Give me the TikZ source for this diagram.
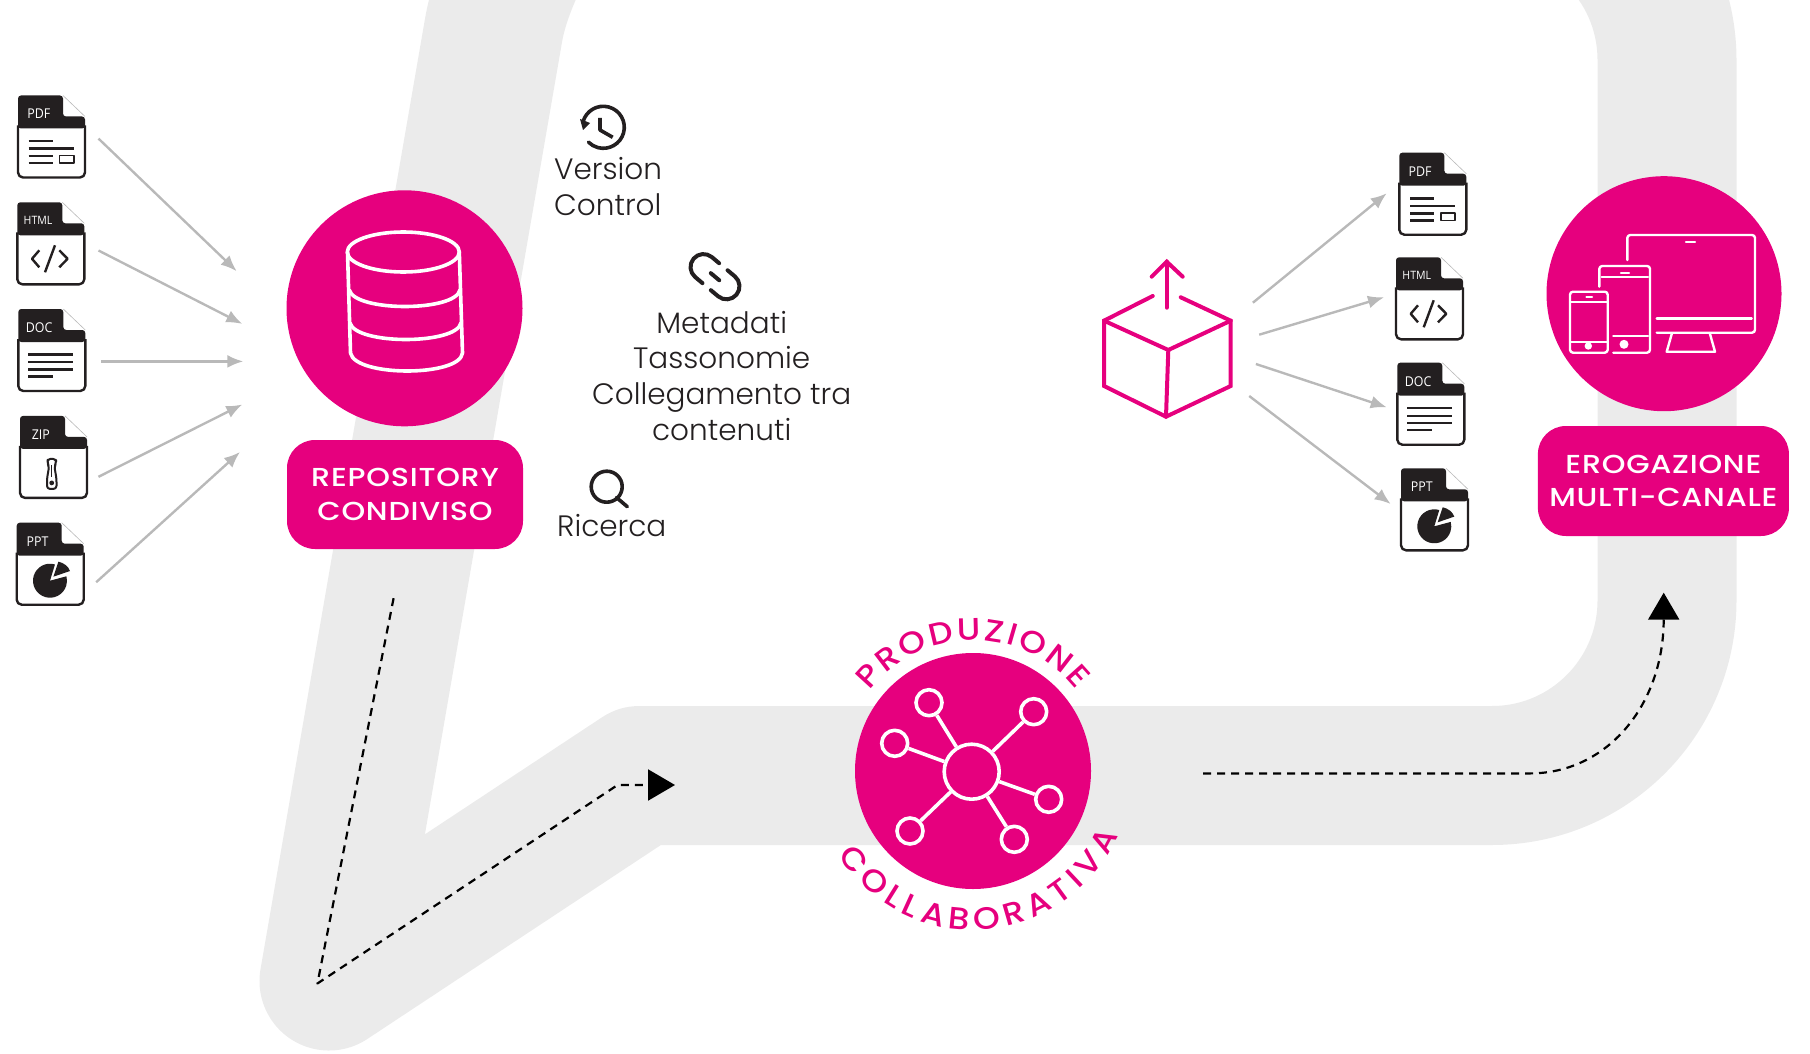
\documentclass[tikz,border=0pt]{standalone}
\usepackage{fontspec}
\usepackage{tikz}
\usetikzlibrary{arrows.meta,calc,decorations.text}
\setmainfont{Poppins Light}
\newfontfamily\labelfont[LetterSpace=3,FakeStretch=1.16]{Poppins Medium}
\newfontfamily\curvefont[FakeStretch=1.1]{Poppins Medium}
\newfontfamily\iconfont[FakeStretch=0.92]{Open Sans}
\definecolor{pinkmain}{HTML}{E6007E}
\definecolor{bandgrey}{HTML}{EBEBEB}
\definecolor{arrowgrey}{HTML}{B9B9B9}
\definecolor{filedark}{HTML}{231F20}
\tikzset{
  circlebox/.style={circle, fill=pinkmain, minimum size=236pt, inner sep=0pt},
  pillbox/.style={rectangle, rounded corners=28pt, fill=pinkmain, text=white, align=center, inner sep=0pt,
    font=\labelfont\fontsize{26}{33.5}\selectfont},
  plaintext/.style={inner sep=0pt, text=filedark, font=\fontsize{29.5}{36}\selectfont},
  greyarrow/.style={draw=arrowgrey, line width=2.4pt, -{Latex[length=16pt,width=13pt]}},
  dasharrow/.style={black, line width=2.2pt, dash pattern=on 8pt off 6pt, -{Triangle[length=27pt,width=31pt]}},
  iconline/.style={filedark, line width=2.2pt},
  pinkline/.style={pinkmain, line width=4pt, line cap=round, line join=miter},
  whiteline/.style={white, line width=3.6pt, line cap=round},
  thinwhite/.style={white, line width=2.4pt, line cap=round, line join=round},
  blackicon/.style={filedark, line width=3.6pt, line cap=round},
  hubdot/.style={circle, draw=white, line width=3.6pt, inner sep=0pt, minimum size=26pt},
  filelabel/.style={text=white, inner sep=0pt, font=\iconfont\fontsize{#1}{#1}\selectfont},
}
% Glyphs inside the file icons
\newcommand{\pdfglyph}{
  \draw[iconline] (10.7,45.7) -- (35,45.7) (10.7,53) -- (56,53) (10.7,60.7) -- (35,60.7) (10.7,67.7) -- (35,67.7);
  \draw[iconline, line width=1.8pt] (41.5,60) rectangle (56,67.7);
}
\newcommand{\htmlglyph}{
  \draw[iconline, line width=2.4pt] (22,48) -- (14.7,56.5) -- (22,65) (42,48) -- (50.3,56.5) -- (42,65) (37.7,43) -- (27.7,70);
}
\newcommand{\docglyph}{
  \draw[iconline] (10,45.5) -- (54.5,45.5) (10,53) -- (54.5,53) (10,60.5) -- (54.5,60.5) (10,67.5) -- (35,67.5);
}
\newcommand{\zipglyph}{
  \draw[iconline, line width=2pt, rounded corners=3pt] (27.5,47) -- (27.5,43) -- (36,43) -- (36,47) -- (34.5,51) -- (36.5,63) -- (36.5,73) -- (27,73) -- (27,63) -- (29,51) -- cycle;
  \fill[filedark] (31.7,67) circle[radius=2.4pt];
  \draw[iconline, line width=1.4pt] (31.7,49) -- (31.7,61);
}
\newcommand{\pptglyph}{
  \fill[filedark] (33.3,58) -- ++(73:17pt) arc[start angle=73, end angle=375, radius=17pt] -- cycle;
  \fill[filedark] (36.7,54) -- (41.7,39) .. controls (47,40) and (52,44) .. (53.3,48.3) -- cycle;
}
% name, x, y, label, label size, glyph
\newcommand{\fileicon}[6]{
  \begin{scope}[shift={(#2,#3)}]
    \node[minimum width=67pt, minimum height=83pt, inner sep=0pt] (#1) at (33.5,41.5) {};
    \draw[filedark, fill=white, line width=2.4pt, rounded corners=5pt] (0,30) -- (0,82) -- (67,82) -- (67,30);
    \fill[filedark, rounded corners=3pt] (0,33) -- (0,0) -- (45,0) -- (45,21) -- (67,21) -- (67,33) -- cycle;
    \draw[arrowgrey, line width=0.6pt] (45,0) -- (67,21);
    \node[filelabel=#5] (#1t) at (20.8,18.5) {#4};
    #6
  \end{scope}
}

\begin{document}
\begin{tikzpicture}[x=1pt, y=-1pt, line join=round]
\useasboundingbox (0,0) rectangle (1810,1054);
\clip (0,0) rectangle (1810,1054);

% Grey band behind everything
\draw[bandgrey, line width=139pt, line join=round, line cap=round] (329,981) -- (640,775.5) -- (1400,775.5)
  {[rounded corners=175pt] -- (1667,775.5) -- (1667,-115) -- (666,-115)}
  arc[start angle=90, end angle=170, radius=175pt] -- (329,981);

% Input files
\fileicon{pdfl}{18}{95.5}{PDF}{13.5}{\pdfglyph}
\fileicon{htmll}{17.3}{202.3}{HTML}{11.5}{\htmlglyph}
\fileicon{docl}{18.3}{309}{DOC}{13.5}{\docglyph}
\fileicon{zipl}{20}{415.9}{ZIP}{13.5}{\zipglyph}
\fileicon{pptl}{16.7}{522.7}{PPT}{13.5}{\pptglyph}

\coordinate (in1) at (236.7,271.2);
\coordinate (in2) at (242.3,323.9);
\coordinate (in3) at (243.3,361.4);
\coordinate (in4) at (242.3,404.5);
\coordinate (in5) at (240,452);

\draw[greyarrow] ([shift={(13.3,1.6)}]pdfl.east) -- (in1);
\draw[greyarrow] ([shift={(14,6.7)}]htmll.east) -- (in2);
\draw[greyarrow] ([shift={(15.7,10.9)}]docl.east) -- (in3);
\draw[greyarrow] ([shift={(11.3,19.4)}]zipl.east) -- (in4);
\draw[greyarrow] ([shift={(12.3,18)}]pptl.east) -- (in5);

% Shared repository
\node[circlebox] (repo) at (404.5,308.3) {};
\node[pillbox, minimum width=236pt, minimum height=109pt] (repolabel) at (405,494.5) {REPOSITORY\\CONDIVISO};
\draw[whiteline] (403.3,252) ellipse[x radius=56pt, y radius=20pt];
\draw[whiteline] (347.5,252) -- (350.5,353) .. controls (355,377) and (460,377) .. (462.5,353) -- (459.3,252);
\draw[whiteline] (349.3,290) .. controls (355,312) and (455,312) .. (460,290);
\draw[whiteline] (350,323) .. controls (356,345) and (456,345) .. (461,323);

% Repository features
\draw[blackicon] (603.3,127.3) ++(165:21pt) arc[start angle=165, end angle=-135, radius=21pt];
\fill[filedark] (580,119) -- (590,123) -- (583,130) -- cycle;
\draw[blackicon, line cap=butt] (600,118) -- (600,130) -- (612.7,137.3);
\node[plaintext, anchor=base west] (version) at (554,179.3) {Version};
\node[plaintext, anchor=base west] (control) at (554,215) {Control};

\begin{scope}[shift={(715,276.7)}, rotate=-40]
\draw[blackicon, line width=4pt] (-5.5,-13) -- (-15,-13) arc[start angle=90, end angle=270, radius=13pt] -- (-5.5,13);
\draw[blackicon, line width=4pt] (5.5,-13) -- (15,-13) arc[start angle=90, end angle=-90, radius=13pt] -- (5.5,13);
\draw[blackicon, line width=4pt] (-5.5,0) -- (5.5,0);
\end{scope}
\node[plaintext, anchor=base] (metadati) at (721.7,333.3) {Metadati};
\node[plaintext, anchor=base] (tassonomie) at (721.7,368.3) {Tassonomie};
\node[plaintext, anchor=base] (collegamento) at (721.7,404) {Collegamento tra};
\node[plaintext, anchor=base] (contenuti) at (721.7,440) {contenuti};

\draw[blackicon] (606.7,486.7) circle[radius=15.5pt];
\draw[blackicon] (616.5,497.5) -- (627.3,506.7);
\node[plaintext, anchor=base west] (ricerca) at (557,536.7) {Ricerca};

% Collaborative production
\node[circlebox] (prod) at (973,771) {};
\node[circle, draw=white, line width=3.6pt, inner sep=0pt, minimum size=55pt] (hub) at (971.7,771.7) {};
\foreach \name/\px/\py in {a/929/702.7, b/1033.7/711.7, c/894.7/743.3, d/1048.7/799.3, e/910/831, f/1014.3/839.3}{
  \node[hubdot] (\name) at (\px,\py) {};
  \draw[whiteline, line cap=butt] (hub) -- (\name);
}
\path[decorate, decoration={text along path, text align={fit to path},
    text={|\curvefont\fontsize{31}{31}\selectfont\color{pinkmain}|PRODUZIONE}}]
  (prod.center) ++(142:131pt) arc[start angle=142, end angle=38, radius=131pt];
\path[decorate, decoration={text along path, text align={fit to path},
    text={|\curvefont\fontsize{31}{31}\selectfont\color{pinkmain}|COLLABORATIVA}}]
  (prod.center) ++(212:159pt) arc[start angle=212, end angle=336, radius=159pt];

% Dashed flow
\coordinate (turn) at (317.4,983.5);
\coordinate (bend) at (617.6,785);
\coordinate (flowtip) at (675,785);
\draw[dasharrow] ([shift={(-11.4,49)}]repolabel.south) -- (turn) -- (bend) -- (flowtip);
\coordinate (curvestart) at (1203,773.4);
\coordinate (curvemid) at (1530,773.4);
\coordinate (uptip) at (1663.7,592.7);
\draw[dasharrow] (curvestart) -- (curvemid) .. controls (1607,773.4) and (1663.7,705) .. (uptip);

% Output box
\node[minimum width=127pt, minimum height=155pt, inner sep=0pt] (crate) at (1167.5,339.5) {};
\draw[pinkline] (1152.7,296) -- (1104,320.7) -- (1104,386) -- (1166,416.7) -- (1230.7,386) -- (1230.7,320.7) -- (1180.7,297.3);
\draw[pinkline] (1104,320.7) -- (1168.3,350) -- (1230.7,320.7);
\draw[pinkline] (1168.3,350) -- (1166,416.7);
\draw[pinkline] (1166.7,307.7) -- (1166.7,261.7);
\draw[pinkline] (1151.7,276.7) -- (1166.7,261.7) -- (1182.7,276.7);

% Output files
\fileicon{pdfr}{1399.3}{152.7}{PDF}{13.5}{\pdfglyph}
\fileicon{htmlr}{1396}{257.3}{HTML}{11.5}{\htmlglyph}
\fileicon{docr}{1397.3}{362.7}{DOC}{13.5}{\docglyph}
\fileicon{pptr}{1401}{468.3}{PPT}{13.5}{\pptglyph}

\coordinate (out1) at (1386.7,193.3);
\coordinate (out2) at (1384,297.3);
\coordinate (out3) at (1386.7,407.3);
\coordinate (out4) at (1390.7,504);

\draw[greyarrow] ([shift={(21.7,-36.8)}]crate.east) -- (out1);
\draw[greyarrow] ([shift={(28,-4.8)}]crate.east) -- (out2);
\draw[greyarrow] ([shift={(24.7,24.5)}]crate.east) -- (out3);
\draw[greyarrow] ([shift={(18,56.5)}]crate.east) -- (out4);

% Multi-channel delivery
\node[circlebox, minimum size=235pt] (deliver) at (1664,293.7) {};
\node[pillbox, minimum width=251pt, minimum height=110pt] (deliverlabel) at (1663.4,481) {EROGAZIONE\\MULTI-CANALE};
\draw[thinwhite, rounded corners=3pt] (1627.3,260) -- (1627.3,235) -- (1755,235) -- (1755,332.7) -- (1656.7,332.7);
\draw[thinwhite] (1656.7,318.3) -- (1751.7,318.3);
\draw[thinwhite] (1686,241.7) -- (1695,241.7);
\draw[thinwhite] (1671.7,334) -- (1666.7,351.7) -- (1715,351.7) -- (1710,334);
\draw[thinwhite, rounded corners=3pt] (1599.3,286.7) -- (1599.3,266) -- (1650,266) -- (1650,352.7) -- (1613.3,352.7);
\draw[thinwhite] (1601.7,276.7) -- (1648,276.7);
\draw[thinwhite] (1621,272.7) -- (1629,272.7);
\draw[thinwhite] (1613.3,335.7) -- (1648,335.7);
\fill[white] (1624,344.3) circle[radius=4.5pt];
\draw[thinwhite, rounded corners=3pt] (1570,291.7) rectangle (1607.7,352.7);
\draw[thinwhite] (1570,301.7) -- (1607.7,301.7) (1570,341.7) -- (1607.7,341.7);
\draw[thinwhite] (1586.5,296.7) -- (1592,296.7);
\fill[white] (1588.3,346) circle[radius=3.7pt];
\end{tikzpicture}
\end{document}
